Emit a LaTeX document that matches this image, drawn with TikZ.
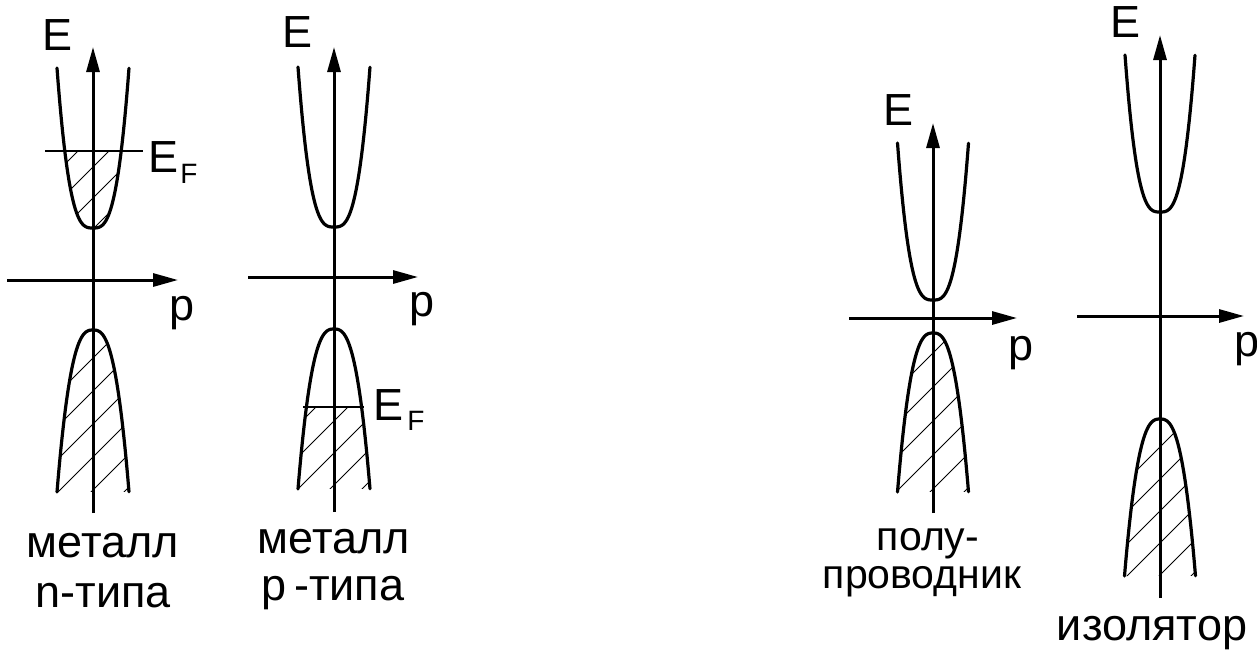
\documentclass[tikz,border=0pt]{standalone}
\usepackage{fontspec}
\setmainfont{Liberation Sans}
\usetikzlibrary{arrows.meta}
\tikzset{
  lbl/.style={font=\fontsize{45}{50}\selectfont, inner sep=0pt, anchor=base},
  lblsm/.style={font=\fontsize{41}{46}\selectfont, inner sep=0pt, anchor=base},
  sub/.style={font=\fontsize{28}{32}\selectfont, inner sep=0pt, anchor=base},
  axis/.style={line width=3pt, -{Triangle[length=25pt,width=13pt]}},
  band/.style={line width=3.2pt, line cap=round},
  fermi/.style={line width=2pt},
  hatchline/.style={line width=1pt},
}
\begin{document}
\begin{tikzpicture}[x=1pt,y=-1pt]
\useasboundingbox[fill=white] (0,0) rectangle (1257,649);

% ---------- hatching ----------
% D1 lower band (full)
\begin{scope}
  \clip plot[domain=-1:1,samples=60,smooth,variable=\t] ({93+36*\t},{330+162*abs(\t)^2.7}) -- cycle;
  \foreach \k in {-6,...,6} \draw[hatchline] (33,{358+33*\k+60}) -- (153,{358+33*\k-60});
\end{scope}
% D1 upper band (below Fermi level)
\begin{scope}
  \clip (40,151) rectangle (146,240);
  \clip plot[domain=-1:1,samples=60,smooth,variable=\t] ({93+36*\t},{228-160*abs(\t)^3}) -- cycle;
  \foreach \k in {-4,...,4} \draw[hatchline] (33,{167+31*\k+60}) -- (153,{167+31*\k-60});
\end{scope}
% D2 lower band (below Fermi level)
\begin{scope}
  \clip (290,407) rectangle (380,495);
  \clip plot[domain=-1:1,samples=60,smooth,variable=\t] ({334+36*\t},{329+160*abs(\t)^2.7}) -- cycle;
  \foreach \k in {-4,...,4} \draw[hatchline] (274,{421+32*\k+60}) -- (394,{421+32*\k-60});
\end{scope}
% D3 lower band
\begin{scope}
  \clip plot[domain=-1:1,samples=60,smooth,variable=\t] ({933+35.5*\t},{333+159*abs(\t)^2.7}) -- cycle;
  \foreach \k in {-6,...,6} \draw[hatchline] (873,{455+34*\k+60}) -- (993,{455+34*\k-60});
\end{scope}
% D4 lower band
\begin{scope}
  \clip plot[domain=-1:1,samples=60,smooth,variable=\t] ({1160+35.5*\t},{419+157*abs(\t)^2.7}) -- cycle;
  \foreach \k in {-6,...,6} \draw[hatchline] (1100,{447+32*\k+60}) -- (1220,{447+32*\k-60});
\end{scope}

% ---------- bands ----------
\foreach \cx/\yv/\h/\w in {93/228/160/36, 334/227/160/36, 933/300/157/35.5, 1160/212/157/35}
  \draw[band] plot[domain=-1:1,samples=60,smooth,variable=\t] ({\cx+\w*\t},{\yv-\h*abs(\t)^3});
\foreach \cx/\yv/\h/\w in {93/330/162/36, 334/329/160/36, 933/333/159/35.5, 1160/419/157/35.5}
  \draw[band] plot[domain=-1:1,samples=60,smooth,variable=\t] ({\cx+\w*\t},{\yv+\h*abs(\t)^2.7});

% ---------- coordinates ----------
\coordinate (a1b) at (93,513);   \coordinate (a1t) at (93,47);
\coordinate (p1l) at (7,280);    \coordinate (p1r) at (178,280);
\coordinate (f1l) at (45,151);   \coordinate (f1r) at (143,151);

\coordinate (a2b) at (334,512);  \coordinate (a2t) at (334,47);
\coordinate (p2l) at (248,277);  \coordinate (p2r) at (418,277);
\coordinate (f2l) at (303,407);  \coordinate (f2r) at (364,407);

\coordinate (a3b) at (933,513);  \coordinate (a3t) at (933,123);
\coordinate (p3l) at (849,318);  \coordinate (p3r) at (1017,318);

\coordinate (a4b) at (1160,598); \coordinate (a4t) at (1160,35);
\coordinate (p4l) at (1077,316); \coordinate (p4r) at (1244,316);

% ---------- axes ----------
\draw[axis] (a1b) -- (a1t);
\draw[axis] (p1l) -- (p1r);
\draw[axis] (a2b) -- (a2t);
\draw[axis] (p2l) -- (p2r);
\draw[axis] (a3b) -- (a3t);
\draw[axis] (p3l) -- (p3r);
\draw[axis] (a4b) -- (a4t);
\draw[axis] (p4l) -- (p4r);

% ---------- Fermi levels ----------
\draw[fermi] (f1l) -- (f1r);
\draw[fermi] (f2l) -- (f2r);

% ---------- labels ----------
\node[lbl] (E1) at (58,50) {E};
\node[lbl] (P1) at (182.5,320) {p};
\node[lbl] (EF1) at (163.5,172) {E};
\node[sub] (EF1s) at (189,183) {F};
\node[lbl] (t1a) at (103,557) {металл};
\node[lbl] (t1b) at (103,607) {n-типа};

\node[lbl] (E2) at (297.5,47) {E};
\node[lbl] (P2) at (422,316) {p};
\node[lbl] (EF2) at (388.5,420) {E};
\node[sub] (EF2s) at (416,430) {F};
\node[lbl] (t2a) at (334,553) {металл};
\node[lbl] (t2b) at (333,600) {р\,-типа};

\node[lbl] (E3) at (898.5,125) {E};
\node[lbl] (P3) at (1021,360) {p};
\node[lblsm] (t3a) at (928,550) {полу-};
\node[lblsm] (t3b) at (922,588) {проводник};

\node[lbl] (E4) at (1125.5,37) {E};
\node[lbl] (P4) at (1247,356) {p};
\node[lbl] (t4a) at (1152,640) {изолятор};
\end{tikzpicture}
\end{document}
